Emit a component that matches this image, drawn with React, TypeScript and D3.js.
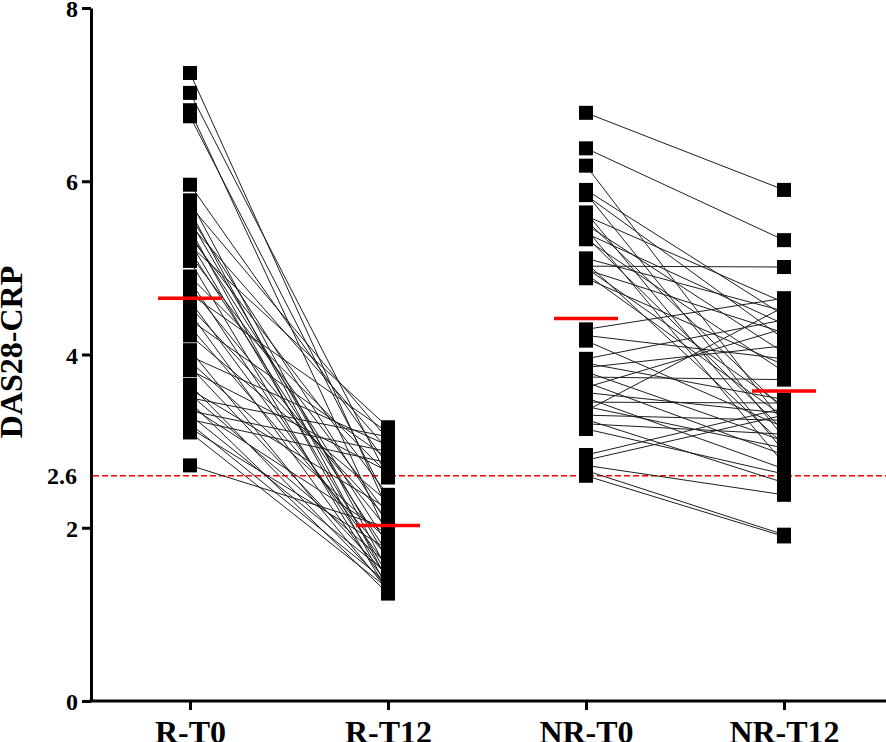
import React, { useEffect, useRef } from 'react';
import * as d3 from 'd3';

const categories = ['R-T0', 'R-T12', 'NR-T0', 'NR-T12'];
const yTicks = [0, 2, 4, 6, 8];
const remissionCutoff = 2.6;

// responders, paired by index
const rT0 = [
  7.25, 7.02, 6.82, 6.75, 5.96,
  5.78, 5.72, 5.66, 5.6, 5.55, 5.5, 5.45, 5.4, 5.36, 5.3, 5.26, 5.2, 5.15, 5.08,
  4.9, 4.85, 4.78, 4.7, 4.62, 4.55, 4.48, 4.4, 4.32, 4.22,
  4.05, 3.98, 3.92, 3.86, 3.82,
  3.65, 3.6, 3.54, 3.5, 3.45, 3.4, 3.35, 3.3, 3.25, 3.2, 3.15, 3.1,
  2.72,
];
const rT12 = [
  2.2, 2.58, 1.9, 2.3, 2.72,
  1.5, 3.02, 1.38, 2.04, 1.62, 2.9, 1.3, 1.8, 2.38, 1.45, 3.16, 1.7, 2.15, 1.26,
  2.62, 1.41, 1.98, 3.1, 1.54, 2.1, 1.34, 2.8, 1.66, 2.3,
  1.28, 2.95, 1.86, 1.44, 2.65,
  1.32, 2.22, 1.58, 3.05, 1.24, 1.92, 2.88, 1.47, 2.75, 1.36, 1.75, 1.3,
  2.0,
];

// non-responders, paired by index
const nrT0 = [
  6.79, 6.38, 6.18, 5.9, 5.86, 5.84,
  5.64, 5.6, 5.55, 5.5, 5.45, 5.4, 5.36, 5.33,
  5.11, 5.06, 5.02, 5.0, 4.98, 4.93, 4.88,
  4.29, 4.22, 4.16,
  3.95, 3.9, 3.85, 3.8, 3.74, 3.68, 3.62, 3.56, 3.5, 3.45, 3.4, 3.35, 3.3, 3.25, 3.2, 3.14,
  2.84, 2.78, 2.72, 2.66, 2.6,
];
const nrT12 = [
  5.9, 5.32, 3.2, 4.45, 3.04, 4.18,
  2.88, 4.6, 3.36, 4.02, 2.74, 4.35, 3.12, 3.8,
  4.5, 2.96, 5.01, 3.4, 4.25, 3.28, 3.88,
  4.65, 3.95, 3.16,
  4.4, 3.48, 4.1, 3.0, 3.71, 2.84, 4.3, 3.32, 2.68, 3.44, 2.92, 4.55, 3.24, 2.52, 3.08, 2.62,
  3.38, 3.3, 2.38, 1.92, 1.9,
];

const W = 886;
const H = 742;
const font = '"Liberation Serif", "Times New Roman", serif';

export default function App() {
  const ref = useRef<SVGSVGElement>(null);

  useEffect(() => {
    if (!ref.current) return;
    const svg = d3.select(ref.current);
    svg.selectAll('*').remove();

    const axisX = 91;
    const y = d3.scaleLinear().domain([0, 8]).range([701, 8]);
    const x = d3.scalePoint<string>().domain(categories).range([190, 784]);

    const groups = [
      { a: categories[0], b: categories[1], t0: rT0, t12: rT12 },
      { a: categories[2], b: categories[3], t0: nrT0, t12: nrT12 },
    ];

    // cutoff line
    svg.append('line')
      .attr('x1', axisX + 2).attr('x2', W)
      .attr('y1', y(remissionCutoff)).attr('y2', y(remissionCutoff))
      .attr('stroke', '#f00')
      .attr('stroke-width', 1.5)
      .attr('stroke-dasharray', '6,3');

    // paired lines
    groups.forEach(g => {
      svg.append('g')
        .selectAll('line')
        .data(d3.range(g.t0.length))
        .join('line')
        .attr('x1', x(g.a)!).attr('x2', x(g.b)!)
        .attr('y1', i => y(g.t0[i]))
        .attr('y2', i => y(g.t12[i]))
        .attr('stroke', '#1e1e1e')
        .attr('stroke-width', 1);
    });

    // squares
    const sz = 14;
    const cols: [string, number[]][] = [
      [categories[0], rT0], [categories[1], rT12],
      [categories[2], nrT0], [categories[3], nrT12],
    ];
    cols.forEach(([c, vals]) => {
      svg.append('g')
        .selectAll('rect')
        .data(vals)
        .join('rect')
        .attr('x', x(c)! - sz / 2)
        .attr('y', d => y(d) - sz / 2)
        .attr('width', sz)
        .attr('height', sz)
        .attr('fill', '#000');
    });

    // mean bars
    cols.forEach(([c, vals]) => {
      const m = d3.mean(vals)!;
      svg.append('line')
        .attr('x1', x(c)! - 32).attr('x2', x(c)! + 32)
        .attr('y1', y(m)).attr('y2', y(m))
        .attr('stroke', '#f00')
        .attr('stroke-width', 3.5);
    });

    // y axis
    const yAxis = svg.append('g')
      .attr('transform', `translate(${axisX},0)`)
      .call(d3.axisLeft(y).tickValues(yTicks).tickSize(9).tickSizeOuter(0).tickPadding(4));
    yAxis.select('.domain').attr('stroke-width', 3).attr('stroke', '#000');
    yAxis.selectAll('.tick line').attr('stroke-width', 3).attr('stroke', '#000');
    yAxis.selectAll('.tick text')
      .attr('dy', '0.36em')
      .attr('font-family', font).attr('font-size', 24).attr('font-weight', 'bold').attr('fill', '#000');

    svg.append('text')
      .attr('x', axisX - 14)
      .attr('y', y(remissionCutoff))
      .attr('dy', '0.36em')
      .attr('text-anchor', 'end')
      .attr('font-family', font).attr('font-size', 24).attr('font-weight', 'bold')
      .text(String(remissionCutoff));

    // x axis
    const xAxis = svg.append('g')
      .attr('transform', `translate(0,${y(0)})`)
      .call(d3.axisBottom(x).tickSize(9).tickSizeOuter(0).tickPadding(10));
    xAxis.select('.domain').remove();
    xAxis.append('line')
      .attr('x1', axisX - 1.5).attr('x2', W)
      .attr('stroke', '#000').attr('stroke-width', 3);
    xAxis.selectAll('.tick line').attr('stroke-width', 3).attr('stroke', '#000');
    xAxis.selectAll('.tick text')
      .attr('font-family', font).attr('font-size', 32).attr('font-weight', 'bold').attr('fill', '#000');

    // y title
    svg.append('text')
      .attr('transform', `translate(22,${352}) rotate(-90)`)
      .attr('text-anchor', 'middle')
      .attr('font-family', font).attr('font-size', 32).attr('font-weight', 'bold')
      .text('DAS28-CRP');
  }, []);

  return (
    <svg
      ref={ref}
      width={W}
      height={H}
      style={{ position: 'absolute', left: 0, top: 0, background: '#fff' }}
    />
  );
}
